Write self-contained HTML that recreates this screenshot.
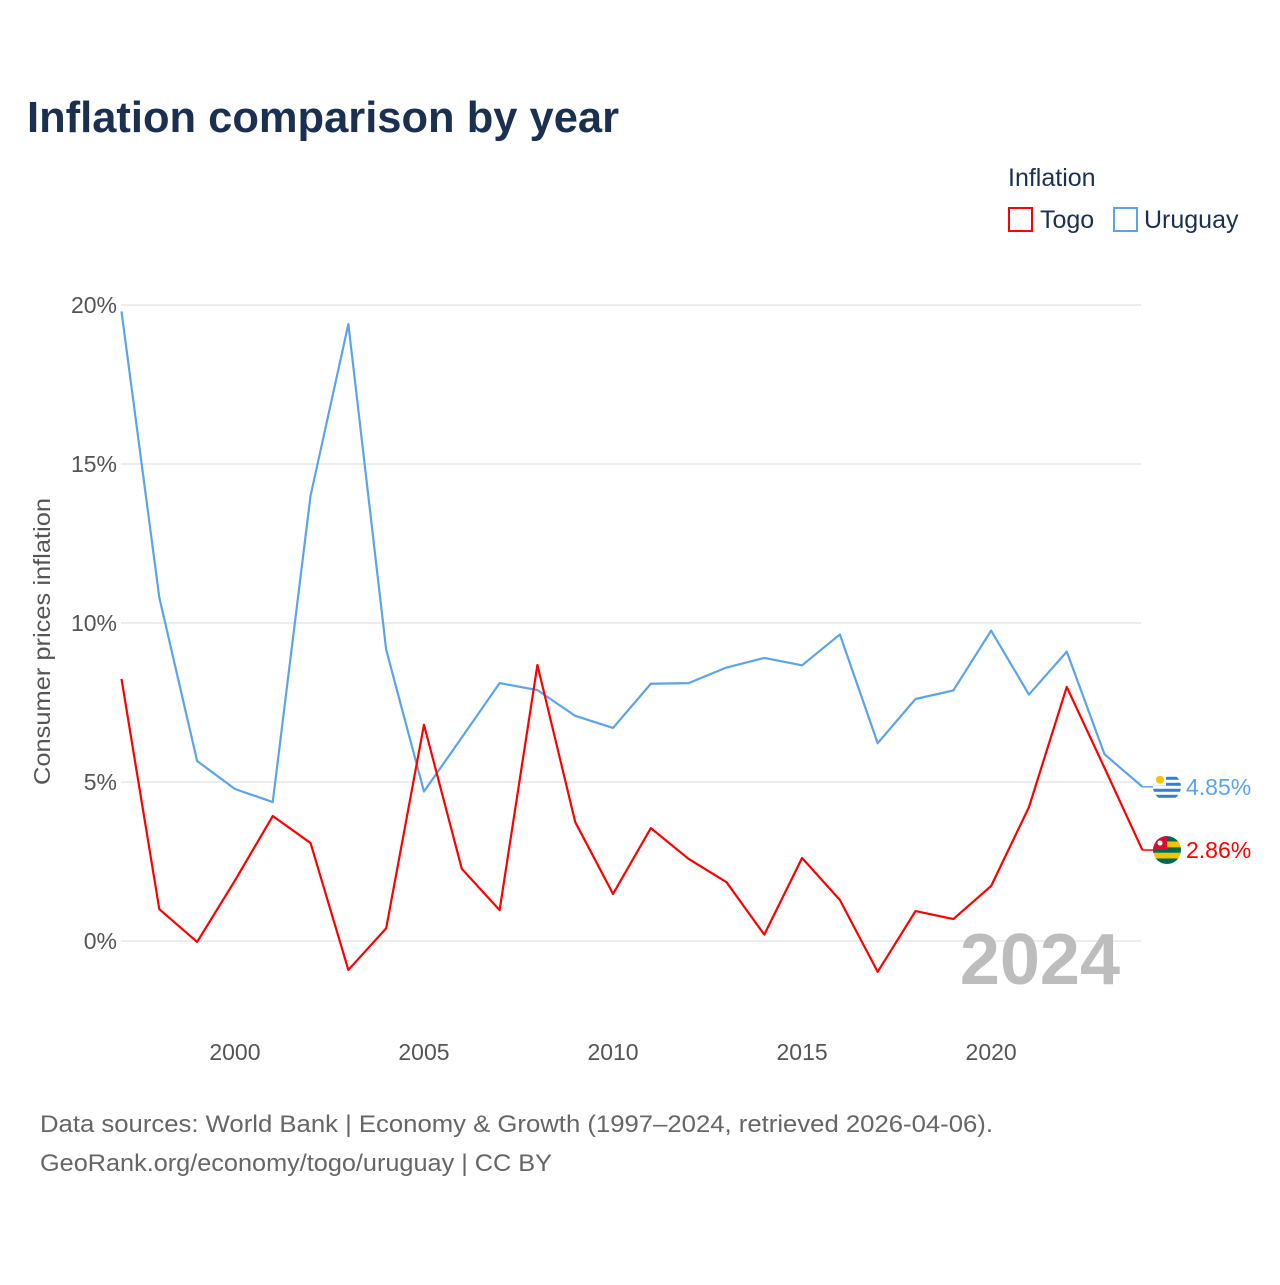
<!DOCTYPE html>
<html><head><meta charset="utf-8"><style>
body{margin:0;background:#fff;font-family:"Liberation Sans",sans-serif}
svg text{font-family:"Liberation Sans",sans-serif}
</style></head><body>
<svg id="chart" width="1280" height="1280" viewBox="0 0 1280 1280">
<text x="27" y="132" font-size="44" font-weight="bold" fill="#1b3050" textLength="592" lengthAdjust="spacingAndGlyphs">Inflation comparison by year</text>
<text x="1008" y="186" font-size="25" fill="#1b3050">Inflation</text>
<g><rect x="1009" y="208" width="23" height="23" fill="none" stroke="#f00" stroke-width="2"/><text x="1040" y="228" font-size="25" fill="#1b3050">Togo</text></g>
<g><rect x="1114" y="208" width="23" height="23" fill="none" stroke="#5ba4ea" stroke-width="2"/><text x="1144" y="228" font-size="25" fill="#1b3050">Uruguay</text></g>
<g id="grid"></g>
<g id="series"></g>
<text x="1120" y="984" text-anchor="end" font-size="72" font-weight="bold" fill="#bdbdbd">2024</text>
<text transform="translate(50,785) rotate(-90)" font-size="23" fill="#555" textLength="287" lengthAdjust="spacingAndGlyphs">Consumer prices inflation</text>
<text x="40" y="1132" font-size="24" fill="#666" textLength="953" lengthAdjust="spacingAndGlyphs">Data sources: World Bank | Economy &amp; Growth (1997–2024, retrieved 2026-04-06).</text>
<text x="40" y="1171" font-size="24" fill="#666" textLength="512" lengthAdjust="spacingAndGlyphs">GeoRank.org/economy/togo/uruguay | CC BY</text>
</svg>
<script>
const years=[1997,1998,1999,2000,2001,2002,2003,2004,2005,2006,2007,2008,2009,2010,2011,2012,2013,2014,2015,2016,2017,2018,2019,2020,2021,2022,2023,2024];
const uruguay=[19.8,10.8,5.66,4.78,4.37,14.0,19.4,9.16,4.7,6.4,8.11,7.89,7.08,6.7,8.09,8.11,8.6,8.9,8.67,9.64,6.22,7.61,7.88,9.76,7.75,9.1,5.87,4.85];
const togo=[8.24,1.0,-0.03,1.9,3.93,3.08,-0.91,0.4,6.8,2.27,0.97,8.68,3.74,1.48,3.55,2.58,1.85,0.2,2.61,1.29,-0.97,0.94,0.69,1.73,4.21,7.99,5.44,2.86];
const yTicks=[0,5,10,15,20];
const xTicks=[2000,2005,2010,2015,2020];
const NS="http://www.w3.org/2000/svg";
const X=y=>121.5+(y-1997)*37.81;
const Y=v=>941-v*31.8;
function mk(t,a,p){const e=document.createElementNS(NS,t);for(const k in a)e.setAttribute(k,a[k]);p.appendChild(e);return e;}
const g=document.getElementById('grid');
yTicks.forEach(v=>{
 const l=mk('line',{x1:121,x2:1141,y1:Y(v),y2:Y(v),stroke:'#e6e6e6','stroke-width':1.5},g);
 
 
 const t=mk('text',{x:117,y:Y(v)+8,'text-anchor':'end','font-size':23,fill:'#555'},g);
 t.textContent=v+'%';
 
 
});
xTicks.forEach(v=>{
 const t=mk('text',{x:X(v),y:1060,'text-anchor':'middle','font-size':23,fill:'#555'},g);
 t.textContent=v;
 
 
});
const s=document.getElementById('series');
function line(vals,col,name){
 const p=mk('polyline',{points:vals.map((v,i)=>X(years[i])+','+Y(v)).join(' '),fill:'none',stroke:col,'stroke-width':2.2,'stroke-linejoin':'round'},s);
 
 
 const last=vals[vals.length-1],ly=Y(last),lx=X(years[years.length-1]);
 mk('line',{x1:lx,x2:lx+12,y1:ly,y2:ly,stroke:col,'stroke-width':1.5},s);
 return [lx,ly,last];
}
const u=line(uruguay,'#5ba4ea','uruguay');
const t=line(togo,'#f00','togo');
// Uruguay flag
const fu=mk('g',{},s);


const cu=mk('clipPath',{id:'uc'},fu);mk('circle',{cx:1167,cy:u[1],r:14},cu);
const ug=mk('g',{'clip-path':'url(#uc)'},fu);
mk('rect',{x:1153,y:u[1]-14,width:28,height:28,fill:'#fff'},ug);
for(let i=0;i<4;i++)mk('rect',{x:1153,y:u[1]-10+i*6,width:28,height:3,fill:'#3a7bd5'},ug);
mk('rect',{x:1153,y:u[1]-14,width:13,height:13,fill:'#fff'},ug);
mk('circle',{cx:1160,cy:u[1]-7,r:4,fill:'#f5c400'},ug);
// Togo flag
const ft=mk('g',{},s);


const cp=mk('clipPath',{id:'tc'},ft);mk('circle',{cx:1167,cy:t[1],r:14},cp);
const tg=mk('g',{'clip-path':'url(#tc)'},ft);
for(let i=0;i<5;i++)mk('rect',{x:1153,y:t[1]-14+i*5.6,width:28,height:5.6,fill:i%2?'#f5c400':'#006a4e'},tg);
mk('rect',{x:1153,y:t[1]-14,width:14,height:14,fill:'#d21034'},tg);
mk('circle',{cx:1160,cy:t[1]-7,r:2.5,fill:'#fff'},tg);
[[u,'#5ba4ea','uruguay'],[t,'#f00','togo']].forEach(([d,c,n])=>{
 const e=mk('text',{x:1186,y:d[1]+8,'font-size':23,fill:c},s);
 e.textContent=d[2].toFixed(2)+'%';
 
 
});
</script>
</body></html>
